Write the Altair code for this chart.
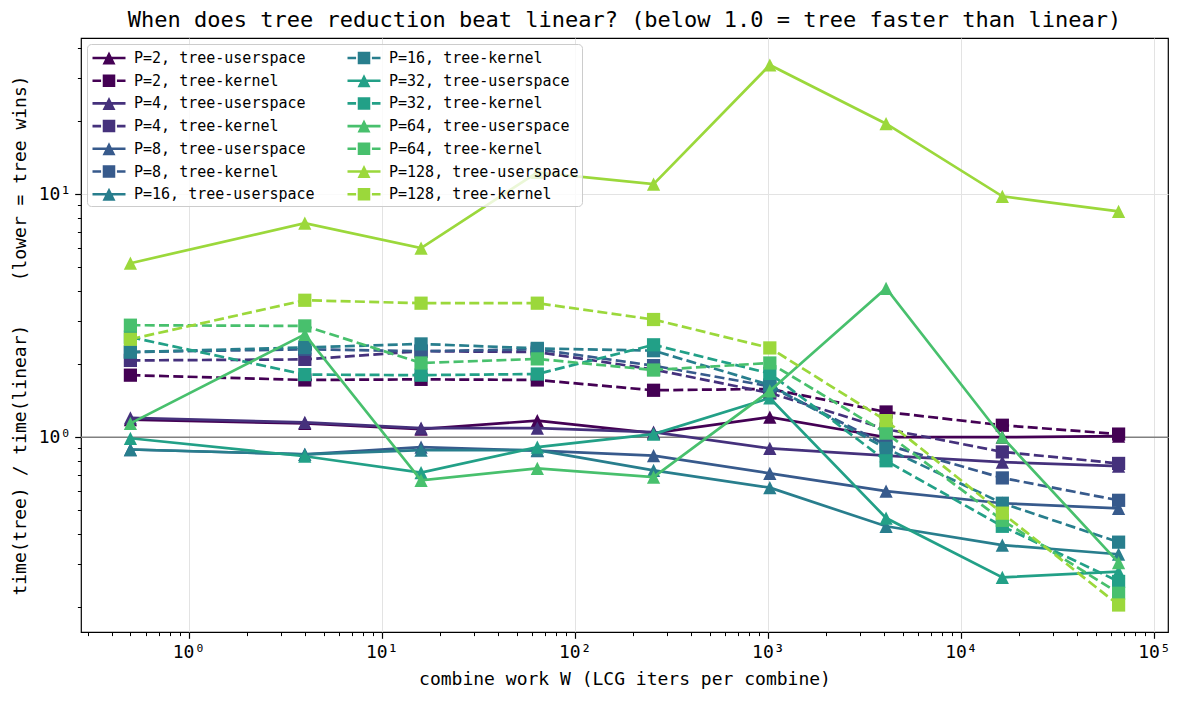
import math
import altair as alt
import pandas as pd

# ---------------- data ----------------
W = [0.5, 4, 16, 64, 256, 1024, 4096, 16384, 65536]
P_VALUES = [2, 4, 8, 16, 32, 64, 128]

USERSPACE = {
    2:   [1.18, 1.14, 1.08, 1.17, 1.04, 1.21, 1.00, 1.00, 1.01],
    4:   [1.20, 1.15, 1.09, 1.09, 1.05, 0.90, 0.84, 0.79, 0.76],
    8:   [0.89, 0.85, 0.91, 0.88, 0.84, 0.71, 0.60, 0.535, 0.51],
    16:  [0.89, 0.85, 0.885, 0.885, 0.73, 0.62, 0.43, 0.36, 0.33],
    32:  [0.99, 0.835, 0.715, 0.91, 1.03, 1.45, 0.465, 0.265, 0.28],
    64:  [1.14, 2.65, 0.665, 0.745, 0.685, 1.55, 4.10, 1.00, 0.305],
    128: [5.2, 7.6, 6.0, 12.3, 11.0, 34.0, 19.5, 9.8, 8.5],
}
KERNEL = {
    2:   [1.80, 1.72, 1.73, 1.72, 1.56, 1.58, 1.27, 1.12, 1.03],
    4:   [2.07, 2.09, 2.26, 2.24, 1.90, 1.52, 1.08, 0.87, 0.78],
    8:   [2.24, 2.30, 2.26, 2.30, 1.97, 1.62, 0.93, 0.68, 0.55],
    16:  [2.24, 2.34, 2.42, 2.32, 2.27, 1.64, 0.90, 0.535, 0.37],
    32:  [2.58, 1.81, 1.80, 1.82, 2.40, 1.83, 0.80, 0.43, 0.255],
    64:  [2.89, 2.87, 2.02, 2.10, 1.89, 2.02, 1.04, 0.455, 0.228],
    128: [2.53, 3.66, 3.56, 3.56, 3.05, 2.33, 1.17, 0.487, 0.204],
}
COLORS = ["#440154", "#45317c", "#375a8c", "#287e8d", "#22a087", "#48c06d", "#9bd83b"]
REF_LINE = [1.0]

TITLE = "When does tree reduction beat linear? (below 1.0 = tree faster than linear)"
X_TITLE = "combine work W (LCG iters per combine)"
Y_TITLE = "time(tree) / time(linear)\u00a0\u00a0\u00a0\u00a0(lower = tree wins)"
FONT = "DejaVu Sans Mono"

# ---------------- build table ----------------
series = []  # (label, values, color, variant)
for p, c in zip(P_VALUES, COLORS):
    series.append((f"P={p}, tree-userspace", USERSPACE[p], c, "user"))
    series.append((f"P={p}, tree-kernel", KERNEL[p], c, "kernel"))

rows = []
for label, vals, c, variant in series:
    for w, v in zip(W, vals):
        rows.append({"W": w, "ratio": v, "series": label})
df = pd.DataFrame(rows)


def log_pad(lo, hi, frac=0.05):
    a, b = math.log10(lo), math.log10(hi)
    s = b - a
    return [10 ** (a - frac * s), 10 ** (b + frac * s)]


xdom = log_pad(min(W), max(W))
ydom = log_pad(df["ratio"].min(), df["ratio"].max())

SUP = {"-": "\u207b", "0": "\u2070", "1": "\u00b9", "2": "\u00b2", "3": "\u00b3",
       "4": "\u2074", "5": "\u2075", "6": "\u2076", "7": "\u2077", "8": "\u2078", "9": "\u2079"}


def tick_setup(dom):
    vals, majors = [], []
    for d in range(-4, 8):
        for m in range(1, 10):
            v = round(m * 10.0 ** d, 12)
            if dom[0] <= v <= dom[1]:
                vals.append(v)
                if m == 1:
                    majors.append((v, d))
    expr = "''"
    for v, d in reversed(majors):
        lab = "10" + "".join(SUP[ch] for ch in str(d))
        expr = f"datum.value == {v!r} ? '{lab}' : {expr}"
    test = "indexof([" + ",".join(repr(v) for v, _ in majors) + "], datum.value) >= 0"
    return vals, expr, test


xvals, xexpr, xtest = tick_setup(xdom)
yvals, yexpr, ytest = tick_setup(ydom)

PLOT_W, PLOT_H = 1087, 594


def make_axis(vals, expr, test, title, **kw):
    return alt.Axis(
        values=vals, labelExpr=expr, title=title,
        titleFont=FONT, titleFontSize=18, titleFontWeight="normal", titleColor="black",
        labelFont=FONT, labelFontSize=18, labelColor="black",
        labelOverlap=False, labelFlush=False,
        tickColor="black",
        tickSize={"condition": {"test": test, "value": 6.3}, "value": 3.6},
        tickWidth={"condition": {"test": test, "value": 1.2}, "value": 1.0},
        grid=True, gridColor="#e3e3e3", gridWidth=1,
        gridOpacity={"condition": {"test": test, "value": 1}, "value": 0},
        domain=False, titleAlign="center", titleBaseline="middle",
        **kw,
    )


xaxis = make_axis(xvals, xexpr, xtest, X_TITLE, labelPadding=5,
                  titleX=PLOT_W / 2, titleY=47)
yaxis = make_axis(yvals, yexpr, ytest, Y_TITLE, labelPadding=4,
                  titleX=-61, titleY=PLOT_H / 2, titleAngle=-90)

xscale = alt.Scale(type="log", domain=xdom, nice=False)
yscale = alt.Scale(type="log", domain=ydom, nice=False)
X = alt.X("W:Q", scale=xscale, axis=xaxis)
Y = alt.Y("ratio:Q", scale=yscale, axis=yaxis)

# legend: natural order (vega fills the 2 columns top-to-bottom, like matplotlib)
dom_labels = [sr[0] for sr in series]
dom_colors = [sr[2] for sr in series]
cscale = alt.Scale(domain=dom_labels, range=dom_colors)

TRI = "M0,-1L1,1L-1,1Z"
SQR = "square"

# legend glyph paths (filled): line piece(s) + marker, unit = sqrt(symbolSize)/2 px
t = 0.12
solid = f"M-1.5,-{t}H1.5V{t}H-1.5Z"
dashed = f"M-1.5,-{t}H-0.72V{t}H-1.5Z M0.72,-{t}H1.5V{t}H0.72Z"
r = 0.59
tri_l = f"M0,-{r}L{r},{r}L-{r},{r}Z"
s = 0.57
sq_l = f"M-{s},-{s}H{s}V{s}H-{s}Z"
leg_paths = [(solid + " " + tri_l) if sr[3] == "user" else (dashed + " " + sq_l) for sr in series]
shape_scale = alt.Scale(domain=dom_labels, range=leg_paths)

legend = alt.Legend(
    title=None, orient="top-left", offset=6, columns=2,
    symbolSize=484, symbolStrokeWidth=0, symbolOpacity=1,
    labelFont=FONT, labelFontSize=15, labelColor="black", labelLimit=0,
    labelOffset=14, symbolOffset=8, columnPadding=30, rowPadding=3.7, padding=3,
    fillColor="rgba(255,255,255,0.8)", strokeColor="#cccccc", cornerRadius=4,
)

layers = []
ref = alt.Chart(pd.DataFrame({"y": REF_LINE})).mark_rule(color="#808080", strokeWidth=1.6).encode(
    y=alt.Y("y:Q", scale=yscale, axis=yaxis)
)
layers.append(ref)

for label, vals, c, variant in series:
    base = alt.Chart().transform_filter(alt.datum.series == label)
    if variant == "kernel":
        ln = base.mark_line(color=c, strokeWidth=2.7, strokeDash=[10, 4.3])
        pt = base.mark_point(color=c, filled=True, shape=SQR, size=175, opacity=1, strokeWidth=0)
    else:
        ln = base.mark_line(color=c, strokeWidth=2.7)
        pt = base.mark_point(color=c, filled=True, shape=TRI, size=175, opacity=1, strokeWidth=0)
    layers.append(ln.encode(x=X, y=Y))
    layers.append(pt.encode(x=X, y=Y))

leg_layer = alt.Chart().transform_filter("false").mark_point(filled=True, opacity=1, strokeWidth=0).encode(
    x=X, y=Y,
    color=alt.Color("series:N", scale=cscale, legend=legend),
    shape=alt.Shape("series:N", scale=shape_scale, legend=legend),
)
layers.append(leg_layer)

chart = alt.layer(*layers, data=df).properties(
    width=PLOT_W, height=PLOT_H,
    autosize=alt.AutoSizeParams(type="none"),
    padding={"left": 81, "top": 38, "right": 13, "bottom": 69},
    background="white",
    title=alt.Title(TITLE, font=FONT, fontSize=22, fontWeight="normal", color="black",
                    anchor="middle", frame="group", offset=6),
).configure_view(stroke="black", strokeWidth=1.2)

chart.save("out.html", embed_options={"renderer": "svg", "actions": False})
